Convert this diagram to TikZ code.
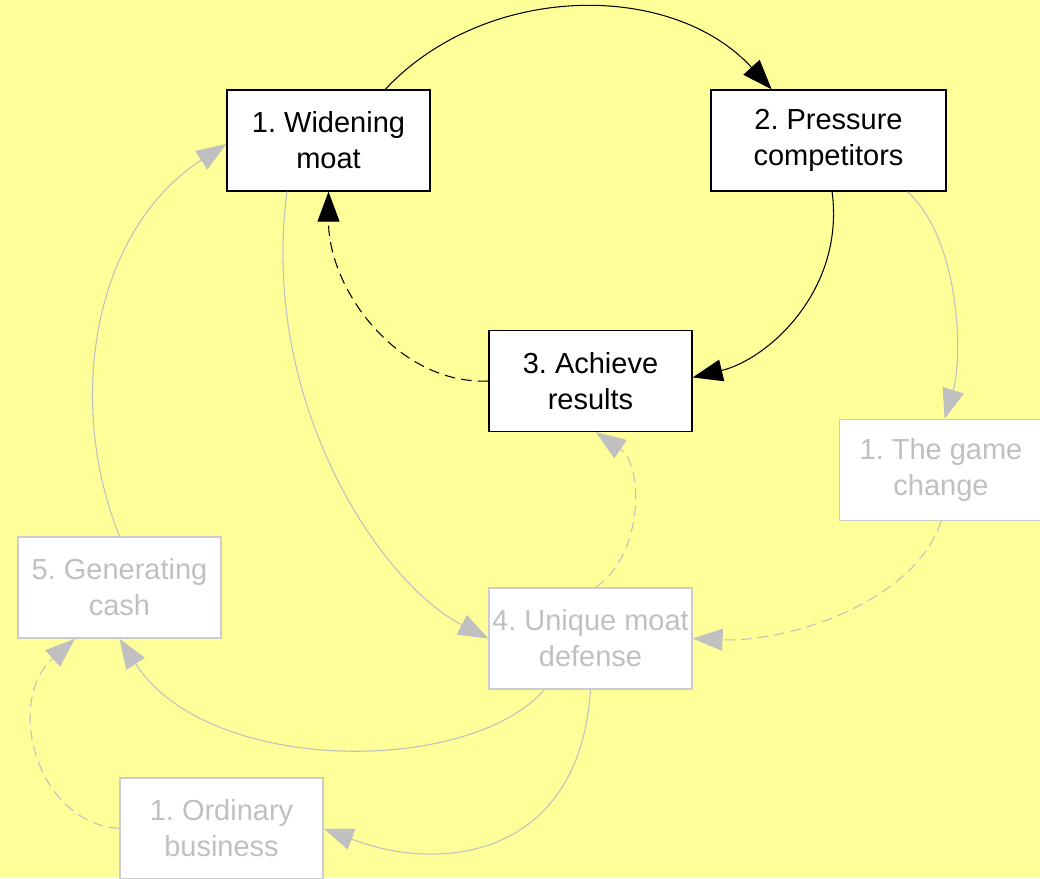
\documentclass[tikz,border=0pt]{standalone}
\usepackage{fontspec}
\setmainfont{Liberation Sans}
\usetikzlibrary{arrows.meta,positioning}
\definecolor{paper}{RGB}{255,255,153}
\definecolor{faded}{RGB}{192,192,192}
\definecolor{fadedline}{RGB}{204,204,204}
\frenchspacing

\tikzset{
  stepbox/.style={draw=black, line width=0.8pt, fill=white, minimum width=4.06cm,
    minimum height=2.02cm, align=center, inner sep=0pt,
    font=\fontsize{16.5}{20.5}\selectfont},
  ghostbox/.style={stepbox, draw=fadedline, text=faded},
  flow/.style={draw=black, line width=0.6pt, -{Triangle[length=17pt,width=12.5pt]}},
  ghostflow/.style={flow, draw=faded},
  gap/.style={dash pattern=on 6pt off 3.5pt}
}

\begin{document}
\begin{tikzpicture}[x=0.02cm, y=-0.02cm]
    \fill[paper] (0,0) rectangle (1040,878);
    \useasboundingbox (0,0) rectangle (1040,878);

    % main loop
    \node[stepbox] (wide) at (328.5,140.5) {1. Widening\\moat};
    \node[stepbox, minimum width=4.7cm] (press) at (828.5,140.5) {2. Pressure\\competitors};
    \node[stepbox] (achieve) at (590.5,381) {3. Achieve\\results};

    % faded steps
    \node[ghostbox] (game) at (941,470) {1. The game\\change};
    \node[ghostbox] (unique) at (590.5,638.5) {4. Unique moat\\defense};
    \node[ghostbox] (cash) at (119.5,587.5) {5. Generating\\cash};
    \node[ghostbox] (ordinary) at (221.5,828.5) {1. Ordinary\\business};

    \draw[flow] (wide.42) .. controls +(100,-107) and +(-100,-109) .. (press.138);
    \draw[flow] (press.-86) .. controls +(13,99) and +(75,-18) .. (achieve.2);
    \draw[flow, gap] (achieve.west) .. controls +(-89,4) and +(0,99) .. (wide.south);

    \draw[ghostflow] (press.-33) .. controls +(54,49) and +(18,-59) .. (game.86);
    \draw[ghostflow, gap] (game.south) .. controls +(-25,79) and +(98,4) .. (unique.east);
    \draw[ghostflow] (wide.-129) .. controls +(-28,209) and +(-109,-56) .. (unique.west);
    \draw[ghostflow, gap] (unique.84) .. controls +(48,-33) and +(48,33) .. (achieve.-84);
    \draw[ghostflow] (unique.-132) .. controls +(-75,86) and +(88,137) .. (cash.south);
    \draw[ghostflow] (cash.north) .. controls +(-55,-137) and +(-132,85) .. (wide.182);
    \draw[ghostflow] (unique.south) .. controls +(-10,161) and +(126,48) .. (ordinary.east);
    \draw[ghostflow, gap] (ordinary.west) .. controls +(-84,-6) and +(-70,62) .. (cash.-131);
  \end{tikzpicture}
\end{document}
